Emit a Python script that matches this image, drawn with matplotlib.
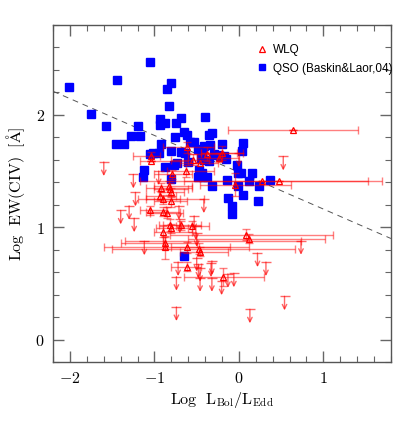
import numpy as np
import matplotlib
matplotlib.use("Agg")
import matplotlib.pyplot as plt
from matplotlib.lines import Line2D

plt.rcParams["mathtext.fontset"] = "cm"
plt.rcParams["font.family"] = "DejaVu Serif"

# QSO sample (Baskin & Laor 2004)
qso_x = [-2.01, -1.44, -1.05, -0.80, -0.85, -0.83, -1.75, -1.57, -1.19, -1.28,
         -1.17, -1.46, -1.36, -0.93, -0.93, -0.87, -0.75, -0.68, -0.40, -0.65,
         -0.62, -0.755, -0.32, -0.36, -0.92, -0.58, -0.53, -0.41, -0.34, -0.20,
         -0.49, -0.80, -0.68, -0.64, -1.05, -1.02, -0.945, -0.30, -0.26, -0.225,
         -0.18, -0.15, -0.44, -0.41, -0.36, -0.735, -0.88, -0.77, -0.60, -1.12,
         -0.47, -0.44, -0.49, -0.42, -0.375, -1.135, -0.80, -0.32, -0.14, -0.13,
         0.05, 0.04, -0.02, -0.01, 0.02, 0.16, 0.12, 0.37, -0.015, 0.24,
         0.05, -0.083, -0.083, 0.23, -0.65, -0.45]
qso_y = [2.25, 2.31, 2.47, 2.28, 2.23, 2.08, 2.01, 1.90, 1.90, 1.81,
         1.81, 1.74, 1.74, 1.96, 1.91, 1.93, 1.93, 1.97, 1.98, 1.85,
         1.82, 1.80, 1.84, 1.82, 1.74, 1.76, 1.76, 1.72, 1.73, 1.74,
         1.70, 1.68, 1.67, 1.66, 1.65, 1.66, 1.66, 1.65, 1.64, 1.63,
         1.63, 1.61, 1.67, 1.60, 1.59, 1.57, 1.54, 1.55, 1.58, 1.51,
         1.51, 1.48, 1.45, 1.45, 1.445, 1.45, 1.43, 1.37, 1.42, 1.26,
         1.75, 1.68, 1.55, 1.48, 1.48, 1.48, 1.41, 1.42, 1.37, 1.37,
         1.29, 1.19, 1.12, 1.23, 0.74, 1.62]

# WLQ detections: position, left/right end of x bar, y error
wlq_x = [0.645, 0.27, 0.47, -0.05, -0.20, -0.38, -0.62, -1.04, -1.04, -0.79,
         -0.63, -0.54, -0.23, -0.46, -0.925, -0.82, -0.80, -0.90, -0.81, -1.05,
         -0.90, -0.85, -0.90, -0.82, -0.80, -0.68, -0.56, -0.88, -0.87, -0.61,
         -0.47, -0.455, 0.08, 0.12, -0.61, -0.19, -0.94, -0.83]
wlq_y = [1.87, 1.41, 1.41, 1.38, 1.66, 1.65, 1.71, 1.63, 1.59, 1.47,
         1.50, 1.60, 1.62, 1.57, 1.35, 1.34, 1.31, 1.25, 1.23, 1.15,
         1.14, 1.13, 0.96, 1.02, 0.99, 1.02, 1.01, 0.86, 0.82, 0.82,
         0.81, 0.78, 0.935, 0.90, 0.65, 0.56, 1.28, 1.37]
wlq_xl = [-0.13, -1.17, -0.65, -0.46, -0.45, -0.60, -0.90, -1.25, -1.17, -1.00,
          -0.85, -0.80, -0.50, -0.70, -1.10, -1.00, -0.95, -1.20, -1.00, -1.17,
          -1.10, -1.05, -1.00, -0.95, -0.98, -0.90, -0.75, -1.40, -1.60, -0.80,
          -1.50, -0.70, -0.82, -0.60, -0.80, -0.65, -1.10, -1.00]
wlq_xh = [1.415, 1.69, 1.53, 0.62, -0.02, -0.20, -0.30, -0.94, -0.60, -0.55,
          -0.30, -0.35, 0.00, -0.25, -0.55, -0.60, -0.65, -0.70, -0.62, -0.86,
          -0.70, -0.66, -0.55, -0.70, -0.60, -0.45, -0.35, -0.50, 0.12, -0.10,
          0.66, -0.13, 1.11, 1.02, -0.45, 0.30, -0.75, -0.55]
wlq_ye = [0.0, 0.0, 0.0, 0.10, 0.06, 0.06, 0.05, 0.04, 0.0, 0.04,
          0.05, 0.05, 0.04, 0.0, 0.04, 0.05, 0.04, 0.04, 0.05, 0.04,
          0.04, 0.05, 0.05, 0.05, 0.04, 0.04, 0.05, 0.05, 0.10, 0.05,
          0.05, 0.04, 0.05, 0.04, 0.04, 0.08, 0.04, 0.04]

# WLQ upper limits
ul_x = [-1.60, -1.25, -1.225, -1.30, -1.40, -1.24, -0.95, -1.12, -0.74, -0.74,
        -0.72, -0.50, -0.46, -0.32, -0.32, -0.205, -0.13, -0.06, -0.71, -0.415,
        -0.51, -0.53, 0.0, 0.525, 0.22, 0.32, 0.735, 0.54, 0.13, -0.50,
        -0.33, -0.48, -0.46, -0.70]
ul_y = [1.58, 1.47, 1.31, 1.19, 1.15, 1.08, 1.50, 0.875, 0.56, 0.29,
        0.69, 0.73, 0.64, 0.70, 0.55, 0.52, 0.585, 0.59, 1.19, 1.25,
        1.01, 1.10, 1.66, 1.63, 0.77, 0.69, 0.88, 0.385, 0.27, 0.95,
        0.68, 0.67, 0.55, 1.07]
ul_xl = [-1.60, -1.25, -1.225, -1.30, -1.40, -1.24, -0.95, -1.35, -0.74, -0.74,
         -0.72, -0.50, -0.46, -0.32, -0.32, -0.205, -0.13, -0.06, -0.71, -1.10,
         -0.51, -0.53, -0.45, 0.525, 0.22, 0.32, -0.90, 0.54, 0.13, -0.50,
         -0.33, -0.48, -0.46, -0.70]
ul_xh = [-1.60, -1.25, -1.225, -1.30, -1.40, -1.24, -0.95, -0.90, -0.74, -0.74,
         -0.72, -0.50, -0.46, -0.32, -0.32, -0.205, -0.13, -0.06, -0.71, -0.415,
         -0.51, -0.53, 0.05, 0.525, 0.22, 0.32, 0.735, 0.54, 0.13, -0.50,
         -0.33, -0.48, -0.46, -0.70]
ul_len = 0.125

# dashed relation
line_x = [-2.2, 1.8]
line_y = [2.21, 0.90]

fig = plt.figure(figsize=(4.15, 4.24), dpi=100)
ax = fig.add_axes([0.128, 0.146, 0.814, 0.795])

ax.plot(line_x, line_y, ls=(0, (6, 5)), color='#555555', lw=0.7)

ax.plot(qso_x, qso_y, 's', color='#0000ff', ms=5.3, mec='#0000ff', zorder=3)

red = '#ff0000'
wx = np.array(wlq_x)
xerr = [wx - np.array(wlq_xl), np.array(wlq_xh) - wx]
ax.errorbar(wlq_x, wlq_y, xerr=xerr, yerr=wlq_ye, fmt='none', ecolor=red,
            alpha=0.5, elinewidth=1.0, capsize=3, capthick=1.0, zorder=4)
ax.plot(wlq_x, wlq_y, '^', ms=5, mfc='none', mec=red, mew=0.9, zorder=5)

ux = np.array(ul_x)
uxerr = [ux - np.array(ul_xl), np.array(ul_xh) - ux]
has_bar = (uxerr[0] + uxerr[1]) > 0
ax.errorbar(ux[has_bar], np.array(ul_y)[has_bar],
            xerr=[uxerr[0][has_bar], uxerr[1][has_bar]], fmt='none',
            ecolor=red, alpha=0.5, elinewidth=1.0, capsize=3, zorder=4)
ax.plot(ul_x, ul_y, '_', ms=7, mec=red, mew=1.0, alpha=0.6, zorder=4)
for x, y in zip(ul_x, ul_y):
    ax.annotate('', xy=(x, y - ul_len), xytext=(x, y),
                arrowprops=dict(arrowstyle='->', color=red, alpha=0.6,
                                lw=1.0, shrinkA=0, shrinkB=0,
                                mutation_scale=8), zorder=4)

ax.set_xlim(-2.2, 1.8)
ax.set_ylim(-0.2, 2.8)
ax.set_xticks([-2, -1, 0, 1])
ax.set_xticklabels([r'$-2$', r'$-1$', r'$0$', r'$1$'])
ax.set_yticks([0, 1, 2])
ax.set_yticklabels([r'$0$', r'$1$', r'$2$'])
ax.set_xticks(np.arange(-2.2, 1.81, 0.2), minor=True)
ax.set_yticks(np.arange(-0.2, 2.81, 0.2), minor=True)
ax.tick_params(which='both', direction='in', top=True, right=True,
               color='#666666', labelsize=11.5)
ax.tick_params(which='major', length=8, width=1.0, pad=6)
ax.tick_params(which='minor', length=4, width=0.8)
for s in ax.spines.values():
    s.set_color('#555555')
    s.set_linewidth(1.0)

ax.set_xlabel(r'$\rm Log\ \ L_{Bol}/L_{Edd}$', fontsize=11.5, labelpad=2)
ax.set_ylabel(r'$\rm Log\ \ EW(CIV)\ \ [\AA]$', fontsize=11.5, labelpad=6)

handles = [Line2D([], [], ls='none', marker='^', ms=5, mfc='none', mec=red, mew=0.9),
           Line2D([], [], ls='none', marker='s', ms=4.8, color='#0000ff')]
leg = ax.legend(handles, ['WLQ', 'QSO (Baskin&Laor,04)'], loc='upper left',
                bbox_to_anchor=(0.57, 0.975), frameon=False, handlelength=1.0,
                handletextpad=0.4, labelspacing=0.55,
                prop={'family': 'Liberation Sans', 'size': 8.5})

fig.savefig('out.png', dpi=100)
